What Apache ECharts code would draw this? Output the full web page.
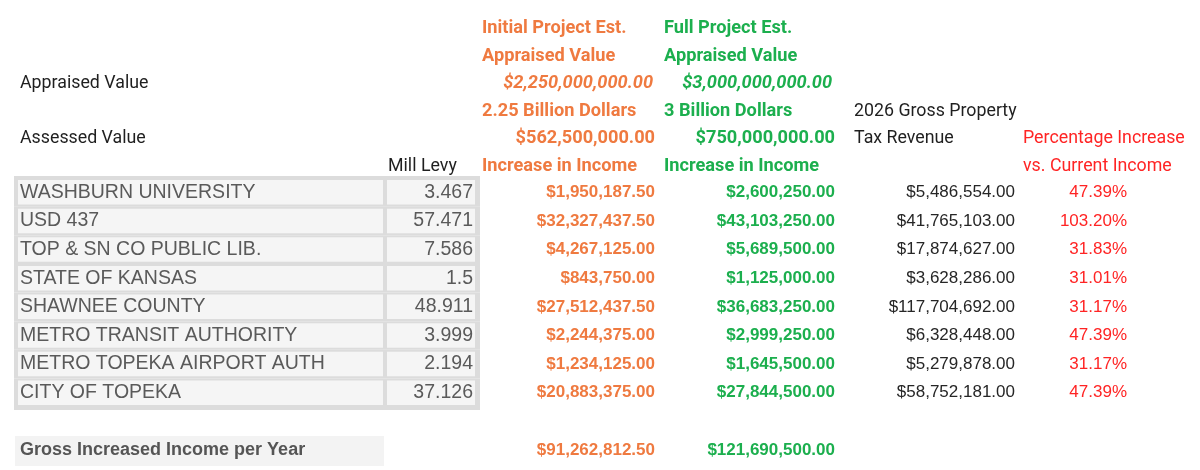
<!DOCTYPE html>
<html>
<head>
<meta charset="utf-8">
<script src="https://cdn.jsdelivr.net/npm/echarts@6/dist/echarts.min.js"></script>
<style>
  html, body { margin: 0; padding: 0; background: #fff; }
  #chart { width: 1200px; height: 470px; }
</style>
</head>
<body>
<div id="chart"></div>
<script>
// table data
const entities = [
    'WASHBURN UNIVERSITY', 'USD 437', 'TOP & SN CO PUBLIC LIB.', 'STATE OF KANSAS',
    'SHAWNEE COUNTY', 'METRO TRANSIT AUTHORITY', 'METRO TOPEKA AIRPORT AUTH', 'CITY OF TOPEKA'
];
const millLevy = [3.467, 57.471, 7.586, 1.5, 48.911, 3.999, 2.194, 37.126];
const initialIncrease = [1950187.5, 32327437.5, 4267125, 843750, 27512437.5, 2244375, 1234125, 20883375];
const fullIncrease = [2600250, 43103250, 5689500, 1125000, 36683250, 2999250, 1645500, 27844500];
const grossRevenue2026 = [5486554, 41765103, 17874627, 3628286, 117704692, 6328448, 5279878, 58752181];
const pctIncrease = [47.39, 103.20, 31.83, 31.01, 31.17, 47.39, 31.17, 47.39];

// header texts
const initialHeader = ['Initial Project Est.', 'Appraised Value', '2.25 Billion Dollars', 'Increase in Income'];
const fullHeader = ['Full Project Est.', 'Appraised Value', '3 Billion Dollars', 'Increase in Income'];
const initialValues = [2250000000, 562500000];   // appraised, assessed
const fullValues = [3000000000, 750000000];
const rowLabels = ['Appraised Value', 'Assessed Value', 'Mill Levy'];
const revenueHeader = ['2026 Gross Property', 'Tax Revenue'];
const pctHeader = ['Percentage Increase', 'vs. Current Income'];
const grossLabel = 'Gross Increased Income per Year';
const grossTotals = [91262812.5, 121690500];

const ORANGE = '#EF7A40';
const GREEN = '#1CAF4E';
const RED = '#FF2424';
const DARK = '#1f1f1f';
const GRAY = '#5a5a5a';
const HEAD_FONT = 'Roboto, "Noto Sans", sans-serif';
const CELL_FONT = '"Liberation Sans", Arial, sans-serif';

const money = v => v.toLocaleString('en-US', { style: 'currency', currency: 'USD' });

// column anchors (x in px units of the hidden value axis)
const X = { label: 20, mill: 473, millHead: 388, init: 655, initL: 482, full: 835, fullL: 664, rev: 1015, revL: 854, pct: 1127, pctL: 1023 };

const head = { fontFamily: HEAD_FONT, fontSize: 17.8, fill: DARK };
const headB = (c) => ({ fontFamily: HEAD_FONT, fontSize: 18.2, fontWeight: 'bold', fill: c });

// header cells: [x, row, text, align, style]
const headerCells = [
    [X.label, 2, rowLabels[0], 'left', head],
    [X.label, 4, rowLabels[1], 'left', head],
    [X.millHead, 5, rowLabels[2], 'left', head],
    [X.initL, 0, initialHeader[0], 'left', headB(ORANGE)],
    [X.initL, 1, initialHeader[1], 'left', headB(ORANGE)],
    [X.init - 2, 2, money(initialValues[0]), 'right', Object.assign({ fontStyle: 'italic' }, headB(ORANGE))],
    [X.initL, 3, initialHeader[2], 'left', headB(ORANGE)],
    [X.init, 4, money(initialValues[1]), 'right', headB(ORANGE)],
    [X.initL, 5, initialHeader[3], 'left', headB(ORANGE)],
    [X.fullL, 0, fullHeader[0], 'left', headB(GREEN)],
    [X.fullL, 1, fullHeader[1], 'left', headB(GREEN)],
    [X.full - 3, 2, money(fullValues[0]), 'right', Object.assign({ fontStyle: 'italic' }, headB(GREEN))],
    [X.fullL, 3, fullHeader[2], 'left', headB(GREEN)],
    [X.full, 4, money(fullValues[1]), 'right', headB(GREEN)],
    [X.fullL, 5, fullHeader[3], 'left', headB(GREEN)],
    [X.revL, 3, revenueHeader[0], 'left', head],
    [X.revL, 4, revenueHeader[1], 'left', head],
    [X.pctL, 4, pctHeader[0], 'left', Object.assign({}, head, { fill: RED })],
    [X.pctL, 5, pctHeader[1], 'left', Object.assign({}, head, { fill: RED })]
];

const nameStyle = { fontFamily: CELL_FONT, fontSize: 19.5, fill: GRAY };
const numB = (c) => ({ fontFamily: CELL_FONT, fontSize: 17, fontWeight: 'bold', fill: c });
const numR = (c) => ({ fontFamily: CELL_FONT, fontSize: 17, fill: c });

const tableCells = [];
entities.forEach((name, i) => {
    tableCells.push([X.label, i, name, 'left', nameStyle]);
    tableCells.push([X.mill, i, String(millLevy[i]), 'right', nameStyle]);
    tableCells.push([X.init, i, money(initialIncrease[i]), 'right', numB(ORANGE)]);
    tableCells.push([X.full, i, money(fullIncrease[i]), 'right', numB(GREEN)]);
    tableCells.push([X.rev, i, money(grossRevenue2026[i]), 'right', numR('#262626')]);
    tableCells.push([X.pct, i, pctIncrease[i].toFixed(2) + '%', 'right', numR(RED)]);
});

const grossCells = [
    [X.label, 0, grossLabel, 'left', { fontFamily: CELL_FONT, fontSize: 18, fontWeight: 'bold', fill: '#555' }],
    [X.init, 0, money(grossTotals[0]), 'right', numB(ORANGE)],
    [X.full, 0, money(grossTotals[1]), 'right', numB(GREEN)]
];

//文字单元格
const textSeries = (cells, idx) => ({
    type: 'custom',
    xAxisIndex: idx,
    yAxisIndex: idx,
    z: 5,
    silent: true,
    data: cells.map(c => [c[0], c[1]]),
    renderItem: (params, api) => {
        const c = cells[params.dataIndex];
        const pt = api.coord([api.value(0), api.value(1)]);
        return {
            type: 'text',
            x: pt[0],
            y: pt[1],
            style: Object.assign({ text: c[2], align: c[3], verticalAlign: 'middle' }, c[4])
        };
    }
});

const xAxes = [0, 1, 2].map(i => ({ type: 'value', gridIndex: i, min: 0, max: 1200, show: false }));
const yAxes = [
    { type: 'category', gridIndex: 0, inverse: true, show: false, data: ['0', '1', '2', '3', '4', '5'] },
    { type: 'category', gridIndex: 1, inverse: true, show: false, data: entities },
    { type: 'category', gridIndex: 2, inverse: true, show: false, data: ['gross'] }
];

const chart = echarts.init(document.getElementById('chart'));
chart.setOption({
    backgroundColor: '#ffffff',
    animation: false,
    grid: [
        { left: 0, right: 0, top: 15, height: 165, containLabel: false, outerBoundsMode: 'none' },
        { left: 0, right: 0, top: 178, height: 229, containLabel: false, outerBoundsMode: 'none' },
        { left: 0, right: 0, top: 435, height: 30, containLabel: false, outerBoundsMode: 'none' }
    ],
    xAxis: xAxes,
    yAxis: yAxes,
    series: [
        {
            // table cell backgrounds
            type: 'custom',
            xAxisIndex: 1,
            yAxisIndex: 1,
            z: 1,
            silent: true,
            data: entities.map((_, i) => [0, i]),
            renderItem: (params, api) => {
                const i = api.value(1);
                const c = api.coord([0, i]);
                const band = api.size([0, 1])[1];
                const x = (v) => api.coord([v, i])[0];
                const top = c[1] - band / 2 - (i === 0 ? 2 : 0);
                const bot = c[1] + band / 2 + (i === entities.length - 1 ? 3 : 0);
                return {
                    type: 'group',
                    children: [
                        { type: 'rect', shape: { x: x(14), y: top, width: x(480) - x(14), height: bot - top }, style: { fill: '#dcdcdc' } },
                        { type: 'rect', shape: { x: x(18), y: c[1] - 12.3, width: x(383) - x(18), height: 24.6 }, style: { fill: '#f5f5f5' } },
                        { type: 'rect', shape: { x: x(387), y: c[1] - 12.3, width: x(475) - x(387), height: 24.6 }, style: { fill: '#f5f5f5' } }
                    ]
                };
            }
        },
        {
            // gross row background
            type: 'custom',
            xAxisIndex: 2,
            yAxisIndex: 2,
            z: 1,
            silent: true,
            data: [[0, 0]],
            renderItem: (params, api) => {
                const c = api.coord([0, 0]);
                const band = api.size([0, 1])[1];
                const x0 = api.coord([15, 0])[0];
                const x1 = api.coord([384, 0])[0];
                return { type: 'rect', shape: { x: x0, y: c[1] - band / 2 + 1, width: x1 - x0, height: band }, style: { fill: '#f3f3f3' } };
            }
        },
        textSeries(headerCells, 0),
        textSeries(tableCells, 1),
        textSeries(grossCells, 2)
    ]
});

window.addEventListener('resize', () => chart.resize());
</script>
</body>
</html>
